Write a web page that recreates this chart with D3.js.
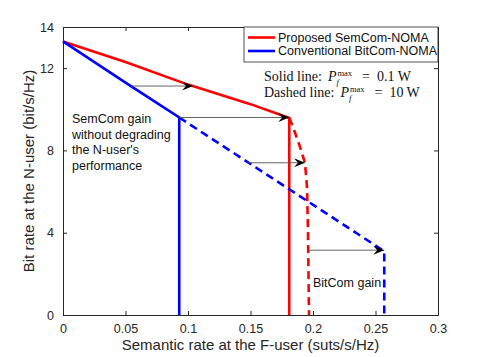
<!DOCTYPE html>
<html>
<head>
<meta charset="utf-8">
<script src="https://cdn.jsdelivr.net/npm/d3@7"></script>
<style>
  body { margin: 0; background: #fff; }
  svg text { font-family: "Liberation Sans", Arial, sans-serif; }
</style>
</head>
<body>
<div id="chart"></div>
<script>
// data
const redSolid = [[0, 13.3], [0.05, 12.3], [0.1, 11.2], [0.15, 10.25], [0.181, 9.58], [0.181, 0]];
const blueSolid = [[0, 13.3], [0.05, 11.3], [0.093, 9.6], [0.093, 0]];
const redDashed = [[0.181, 9.58], [0.184, 9.14], [0.1896, 8.17], [0.1936, 7.39], [0.1952, 6.22], [0.196, 4.0], [0.1968, 0]];
const blueDashed = [[0.093, 9.6], [0.257, 3.1], [0.257, 0]];
const arrows = [
    {x1: 0.0545, x2: 0.104, y: 11.13},
    {x1: 0.093, x2: 0.181, y: 9.6},
    {x1: 0.1475, x2: 0.1936, y: 7.4},
    {x1: 0.196, x2: 0.257, y: 3.15}
];
const xTicks = [0, 0.05, 0.1, 0.15, 0.2, 0.25, 0.3];
const yTicks = [0, 4, 8, 12, 14];
const legendItems = [
    {name: "Proposed SemCom-NOMA", color: "#ff0000"},
    {name: "Conventional BitCom-NOMA", color: "#0000ff"}
];
const captions = [
    {label: "Solid line:", value: "0.1 W"},
    {label: "Dashed line:", value: "10 W"}
];

const width = 485;
const height = 357;
const marginLeft = 63, marginRight = 47, marginTop = 27, marginBottom = 42;

const x = d3.scaleLinear().domain([0, 0.3]).range([marginLeft, width - marginRight]);
const y = d3.scaleLinear().domain([0, 14]).range([height - marginBottom, marginTop]);

const svg = d3.select("#chart").append("svg")
    .attr("width", width)
    .attr("height", height);

const axisColor = "#262626";

// axes with inward ticks
svg.append("g")
    .attr("transform", `translate(0,${y(0)})`)
    .call(d3.axisBottom(x).tickValues(xTicks).tickSizeInner(-4).tickSizeOuter(0)
        .tickPadding(9).tickFormat(d => d3.format("~g")(d)))
    .call(g => g.selectAll("text").attr("font-size", 12.5).attr("font-family", null).attr("fill", axisColor))
    .call(g => g.selectAll("line, path").attr("stroke", axisColor));

svg.append("g")
    .attr("transform", `translate(${x(0)},0)`)
    .call(d3.axisLeft(y).tickValues(yTicks).tickSizeInner(-4).tickSizeOuter(0).tickPadding(9))
    .call(g => g.selectAll("text").attr("font-size", 12.5).attr("font-family", null).attr("fill", axisColor))
    .call(g => g.selectAll("line, path").attr("stroke", axisColor));

// box top/right with mirrored ticks
svg.append("g")
    .attr("transform", `translate(0,${y(14)})`)
    .call(d3.axisTop(x).tickValues(xTicks).tickSizeInner(-4).tickSizeOuter(0).tickFormat(""))
    .call(g => g.selectAll("line, path").attr("stroke", axisColor));

svg.append("g")
    .attr("transform", `translate(${x(0.3)},0)`)
    .call(d3.axisRight(y).tickValues(yTicks).tickSizeInner(-4).tickSizeOuter(0).tickFormat(""))
    .call(g => g.selectAll("line, path").attr("stroke", axisColor));

// axis labels
svg.append("text")
    .attr("x", (x(0) + x(0.3)) / 2)
    .attr("y", 350)
    .attr("text-anchor", "middle")
    .attr("font-size", 15)
    .attr("fill", axisColor)
    .text("Semantic rate at the F-user (suts/s/Hz)");

svg.append("text")
    .attr("transform", `translate(34,${(y(0) + y(14)) / 2}) rotate(-90)`)
    .attr("text-anchor", "middle")
    .attr("font-size", 15)
    .attr("fill", axisColor)
    .text("Bit rate at the N-user (bit/s/Hz)");

// curves
const line = d3.line().x(d => x(d[0])).y(d => y(d[1]));

const curves = [
    {data: redSolid, color: "#ff0000", dash: null},
    {data: blueSolid, color: "#0000ff", dash: null},
    {data: redDashed, color: "#ff0000", dash: "8,5"},
    {data: blueDashed, color: "#0000ff", dash: "8,5"}
];

svg.append("g")
    .selectAll("path")
    .data(curves)
    .join("path")
        .attr("d", d => line(d.data))
        .attr("fill", "none")
        .attr("stroke", d => d.color)
        .attr("stroke-width", 2.6)
        .attr("stroke-dasharray", d => d.dash);

// arrows
svg.append("defs").append("marker")
    .attr("id", "head")
    .attr("viewBox", "-12 -6 14 12")
    .attr("markerWidth", 14)
    .attr("markerHeight", 12)
    .attr("markerUnits", "userSpaceOnUse")
    .attr("refX", 0)
    .attr("refY", 0)
    .attr("orient", "auto")
  .append("path")
    .attr("d", "M0,0 L-11,-4.5 L-7,0 L-11,4.5 Z")
    .attr("fill", "#000");

svg.append("g")
    .selectAll("line")
    .data(arrows)
    .join("line")
        .attr("x1", d => x(d.x1))
        .attr("x2", d => x(d.x2))
        .attr("y1", d => y(d.y))
        .attr("y2", d => y(d.y))
        .attr("stroke", "#555")
        .attr("stroke-width", 0.9)
        .attr("marker-end", "url(#head)");

// annotations
const note = ["SemCom gain", "without degrading", "the N-user's", "performance"];
svg.append("text")
    .attr("font-size", 12.5)
    .attr("fill", "#111")
    .selectAll("tspan")
    .data(note)
    .join("tspan")
        .attr("x", 72)
        .attr("y", (d, i) => 123 + i * 15.5)
        .text(d => d);

svg.append("text")
    .attr("x", 313)
    .attr("y", 287)
    .attr("font-size", 12.5)
    .attr("fill", "#111")
    .text("BitCom gain");

// power captions (LaTeX style, serif)
const serif = "'Liberation Serif', 'DejaVu Serif', serif";
captions.forEach((c, i) => {
    const yy = 81 + i * 16;
    const g = svg.append("g").attr("fill", "#111");
    const put = (tx, xx, dy, size, italic) => g.append("text")
        .attr("x", xx).attr("y", yy + dy)
        .style("font-family", serif)
        .attr("font-size", size)
        .attr("font-style", italic ? "italic" : null)
        .text(tx);
    const lab = put(c.label, 264, 0, 14, false);
    const x0 = 264 + lab.node().getComputedTextLength() + 6;
    put("P", x0, 0, 14, true);
    put("max", x0 + 9.5, -5.5, 8.5, false);
    put("f", x0 + 8.5, 3.5, 8.5, true);
    put("=", x0 + 34, 0, 14, false);
    put(c.value, x0 + 49, 0, 14, false);
});

// legend
const legend = svg.append("g");
legend.append("rect")
    .attr("x", 244)
    .attr("y", y(14))
    .attr("width", x(0.3) - 244)
    .attr("height", 35)
    .attr("fill", "#fff")
    .attr("stroke", axisColor)
    .attr("stroke-width", 0.8);

const item = legend.selectAll("g.item")
    .data(legendItems)
    .join("g")
        .attr("transform", (d, i) => `translate(248,${y(14) + 10.5 + i * 13.5})`);

item.append("line")
    .attr("x1", 0).attr("x2", 27)
    .attr("stroke", d => d.color)
    .attr("stroke-width", 2.6);

item.append("text")
    .attr("x", 30)
    .attr("dy", "0.35em")
    .attr("font-size", 12.5)
    .attr("fill", "#111")
    .text(d => d.name);
</script>
</body>
</html>
